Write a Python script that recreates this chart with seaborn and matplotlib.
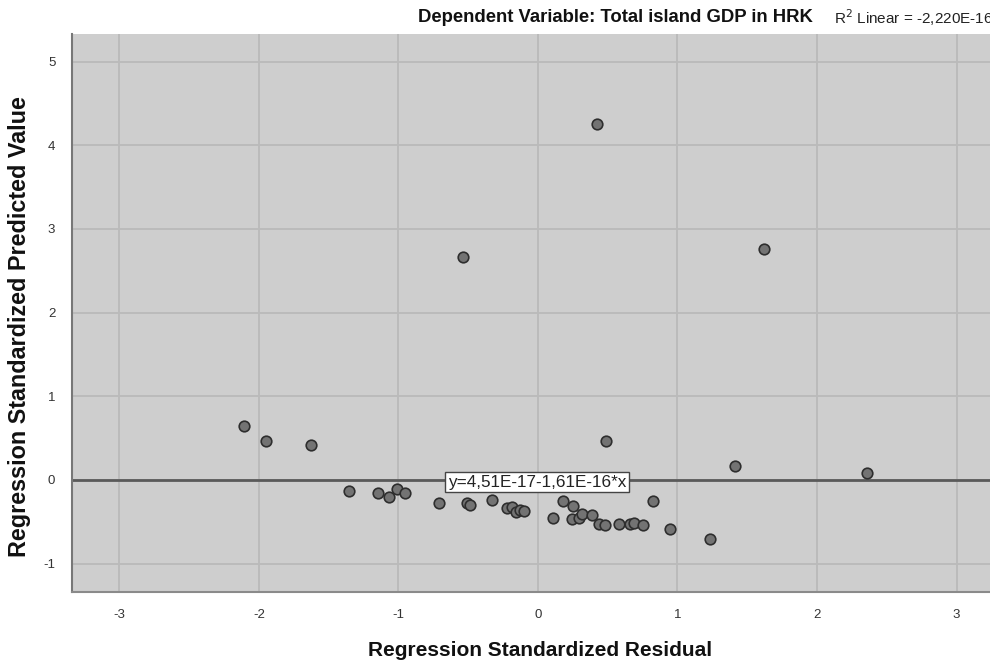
import matplotlib
matplotlib.use("Agg")
import matplotlib.pyplot as plt
import seaborn as sns
import numpy as np
import pandas as pd

# Standardized residuals vs standardized predicted values
residual = [0.423, -0.54, 1.62, -2.105, -1.948, -1.625, 0.485, 1.41, 2.358,
            -1.355, -1.15, -1.068, -1.009, -0.951, -0.707, -0.509, -0.487,
            -0.327, -0.224, -0.184, -0.16, -0.129, -0.10, 0.11, 0.179, 0.248,
            0.246, 0.296, 0.313, 0.387, 0.437, 0.483, 0.583, 0.659, 0.69,
            0.755, 0.827, 0.946, 1.233]
predicted = [4.254, 2.66, 2.76, 0.646, 0.468, 0.42, 0.468, 0.163, 0.087,
             -0.135, -0.16, -0.20, -0.107, -0.158, -0.274, -0.278, -0.306,
             -0.242, -0.337, -0.325, -0.385, -0.357, -0.373, -0.46, -0.25,
             -0.317, -0.468, -0.456, -0.405, -0.42, -0.524, -0.544, -0.532,
             -0.524, -0.512, -0.536, -0.258, -0.583, -0.71]

# Linear fit coefficients
fit_intercept = 4.51e-17
fit_slope = -1.61e-16
fit_label = "y=4,51E-17-1,61E-16*x"
r2_label = "R$^2$ Linear = -2,220E-16"

title = "Dependent Variable: Total island GDP in HRK"
x_label = "Regression Standardized Residual"
y_label = "Regression Standardized Predicted Value"
x_ticks = [-3, -2, -1, 0, 1, 2, 3]
y_ticks = [-1, 0, 1, 2, 3, 4, 5]

df = pd.DataFrame({"residual": residual, "predicted": predicted})

sns.set_style("white")
plt.rcParams["font.family"] = ["Liberation Sans", "DejaVu Sans"]
plt.rcParams["axes.unicode_minus"] = False

fig = plt.figure(figsize=(9.9, 6.61), dpi=100)
ax = fig.add_axes([0.0727, 0.1044, 0.9273, 0.8442])
ax.set_facecolor("#cecece")

xlim = (-3.34, 3.24)
ylim = (-1.34, 5.33)
ax.set_xlim(*xlim)
ax.set_ylim(*ylim)

ax.set_xticks(x_ticks)
ax.set_yticks(y_ticks)
ax.grid(True, color="#bababa", linewidth=1.3)
ax.set_axisbelow(True)

# Fit line across the full horizontal range
xs = np.array(xlim)
ax.plot(xs, fit_intercept + fit_slope * xs, color="#5a5a5a", linewidth=2.0, zorder=2)

sns.scatterplot(data=df, x="residual", y="predicted", ax=ax, s=58,
                color="#737373", edgecolor="#2e2e2e", linewidth=1.2, zorder=3)

ax.text(-0.645, fit_intercept - 0.03, fit_label, fontsize=12.3, color="#222222",
        ha="left", va="center", zorder=4,
        bbox=dict(boxstyle="square,pad=0.15", facecolor="white",
                  edgecolor="#444444", linewidth=1.0))

for side in ("top", "right"):
    ax.spines[side].set_visible(False)
ax.spines["left"].set_color("#777777")
ax.spines["left"].set_linewidth(1.5)
ax.spines["bottom"].set_color("#8a8a8a")
ax.spines["bottom"].set_linewidth(1.5)

ax.tick_params(axis="both", length=0, labelsize=9.5, labelcolor="#333333")
ax.tick_params(axis="x", pad=12)
ax.tick_params(axis="y", pad=12)

ax.set_xlabel(x_label, fontsize=15, fontweight="bold", color="#111111")
ax.xaxis.set_label_coords(0.51, -0.087)
ax.xaxis.label.set_va("top")
ax.set_ylabel(y_label, fontsize=16.8, fontweight="bold", color="#111111")
ax.yaxis.set_label_coords(-0.045, 0.475)

fig.text(0.6215, 0.974, title, fontsize=13.3, fontweight="bold", color="#111111",
         ha="center", va="center")
fig.text(0.842, 0.974, r2_label, fontsize=11, color="#222222",
         ha="left", va="center")

fig.savefig("out.png", dpi=100)
